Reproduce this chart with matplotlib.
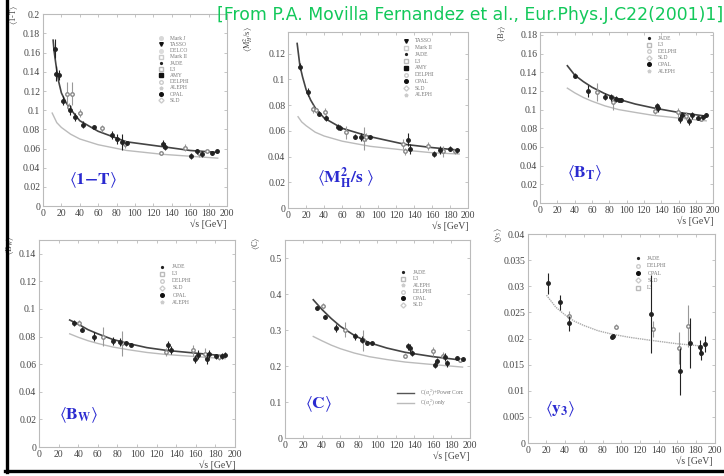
import numpy as np
import matplotlib
matplotlib.use('Agg')
import matplotlib.pyplot as plt
from matplotlib.lines import Line2D
from matplotlib.ticker import FuncFormatter

plt.rcParams['font.family'] = ['Liberation Serif', 'DejaVu Serif']
plt.rcParams['mathtext.fontset'] = 'stix'

# ---- <1-T> ----
t_x = [12.7, 14.5, 17.5, 22.0, 29.8, 34.5, 43.0, 55.0, 74.5, 80.0, 85.5, 91.2, 130.0, 133.0, 161.0, 167.0, 172.7, 183.6, 189.0]
t_y = [0.164, 0.138, 0.137, 0.110, 0.100, 0.093, 0.085, 0.082, 0.074, 0.070, 0.067, 0.066, 0.065, 0.062, 0.052, 0.057, 0.054, 0.055, 0.057]
t_e = [0.010, 0.008, 0.005, 0.005, 0.005, 0.004, 0.004, 0.002, 0.004, 0.005, 0.008, 0.001, 0.004, 0.004, 0.003, 0.003, 0.003, 0.002, 0.002]
t_x2 = [26.5, 31.0, 28.0, 40.0, 64.7, 89.0, 128.0, 154.5, 170.0, 178.0]
t_y2 = [0.117, 0.117, 0.103, 0.097, 0.081, 0.065, 0.055, 0.061, 0.055, 0.057]
t_e2 = [0.012, 0.012, 0.005, 0.004, 0.004, 0.004, 0.002, 0.004, 0.004, 0.002]
t_fit_x = [11, 12, 14, 17, 20, 25, 30, 40, 60, 91, 130, 160, 190]
t_fit_y = [0.173, 0.162, 0.148, 0.130, 0.118, 0.108, 0.101, 0.089, 0.078, 0.067, 0.062, 0.058, 0.056]
t_nlo_x = [10, 15, 20, 30, 40, 60, 91, 130, 160, 190]
t_nlo_y = [0.097, 0.087, 0.082, 0.075, 0.070, 0.064, 0.058, 0.054, 0.052, 0.050]

# ---- <M_H^2/s> ----
m_x = [13.0, 21.5, 34.0, 42.6, 55.5, 57.4, 74.0, 81.5, 91.5, 133.0, 135.0, 161.8, 168.5, 180.0, 187.8]
m_y = [0.110, 0.090, 0.0735, 0.070, 0.063, 0.0625, 0.0555, 0.055, 0.055, 0.053, 0.046, 0.042, 0.045, 0.046, 0.045]
m_e = [0.003, 0.003, 0.002, 0.002, 0.002, 0.002, 0.002, 0.003, 0.001, 0.005, 0.004, 0.002, 0.003, 0.002, 0.002]
m_x2 = [27.8, 30.7, 40.7, 64.0, 84.0, 87.0, 127.8, 129.6, 155.5, 172.0, 185.0]
m_y2 = [0.077, 0.076, 0.075, 0.059, 0.054, 0.055, 0.050, 0.044, 0.048, 0.044, 0.044]
m_e2 = [0.003, 0.002, 0.003, 0.005, 0.009, 0.003, 0.004, 0.003, 0.003, 0.004, 0.002]
m_fit_x = [10, 13, 16, 20, 25, 30, 40, 60, 91, 130, 160, 190]
m_fit_y = [0.128, 0.111, 0.102, 0.092, 0.084, 0.078, 0.070, 0.062, 0.0555, 0.0495, 0.047, 0.045]
m_nlo_x = [11, 15, 20, 30, 40, 60, 91, 130, 160, 190]
m_nlo_y = [0.071, 0.067, 0.064, 0.059, 0.056, 0.052, 0.048, 0.045, 0.043, 0.042]

# ---- <B_T> ----
bt_x = [40.4, 55.8, 75.0, 82.0, 87.7, 91.5, 94.0, 134.6, 136.5, 161.5, 164.0, 172.0, 175.0, 182.7, 188.5, 192.0]
bt_y = [0.1365, 0.120, 0.114, 0.113, 0.1115, 0.1105, 0.110, 0.1035, 0.102, 0.090, 0.094, 0.088, 0.094, 0.091, 0.092, 0.094]
bt_e = [0.003, 0.006, 0.004, 0.004, 0.003, 0.001, 0.002, 0.004, 0.004, 0.004, 0.003, 0.004, 0.004, 0.002, 0.002, 0.002]
bt_x2 = [65.4, 84.6, 132.7, 159.6, 169.0, 185.4]
bt_y2 = [0.119, 0.108, 0.099, 0.097, 0.093, 0.090]
bt_e2 = [0.010, 0.008, 0.004, 0.005, 0.004, 0.002]
bt_fit_x = [31.5, 40, 50, 60, 75, 91, 110, 130, 160, 192]
bt_fit_y = [0.147, 0.137, 0.130, 0.124, 0.117, 0.111, 0.106, 0.102, 0.097, 0.093]
bt_nlo_y = [0.123, 0.118, 0.113, 0.109, 0.104, 0.100, 0.097, 0.094, 0.091, 0.088]

# ---- <B_W> ----
bw_x = [35.4, 44.0, 56.2, 75.6, 82.5, 88.6, 93.4, 131.9, 134.2, 159.1, 162.5, 171.0, 173.8, 180.6, 186.4, 189.8]
bw_y = [0.0898, 0.085, 0.080, 0.077, 0.076, 0.075, 0.074, 0.0736, 0.0705, 0.064, 0.067, 0.064, 0.0676, 0.0657, 0.066, 0.067]
bw_e = [0.002, 0.002, 0.003, 0.003, 0.003, 0.002, 0.001, 0.003, 0.003, 0.003, 0.003, 0.004, 0.003, 0.002, 0.002, 0.002]
bw_x2 = [40.9, 65.4, 85.0, 129.5, 157.4, 169.3, 183.3]
bw_y2 = [0.0898, 0.080, 0.075, 0.0688, 0.070, 0.0676, 0.065]
bw_e2 = [0.002, 0.007, 0.009, 0.003, 0.004, 0.004, 0.002]
bw_fit_x = [31.3, 40, 50, 60, 75, 91, 110, 130, 160, 190]
bw_fit_y = [0.092, 0.089, 0.085, 0.082, 0.078, 0.075, 0.072, 0.070, 0.068, 0.066]
bw_nlo_y = [0.082, 0.0795, 0.077, 0.075, 0.0725, 0.0705, 0.0685, 0.067, 0.0655, 0.064]

# ---- <C> ----
c_x = [35.0, 43.2, 55.1, 75.7, 82.9, 89.0, 93.7, 132.6, 135.0, 137.0, 162.0, 164.0, 173.0, 174.8, 186.3, 192.8]
c_y = [0.361, 0.336, 0.3056, 0.282, 0.273, 0.264, 0.264, 0.255, 0.250, 0.236, 0.204, 0.213, 0.225, 0.208, 0.222, 0.219]
c_e = [0.006, 0.006, 0.010, 0.010, 0.010, 0.005, 0.003, 0.010, 0.010, 0.008, 0.010, 0.008, 0.010, 0.010, 0.005, 0.005]
c_x2 = [40.7, 64.9, 84.7, 129.7, 159.6, 170.5, 189.2]
c_y2 = [0.366, 0.301, 0.271, 0.229, 0.241, 0.229, 0.218]
c_e2 = [0.008, 0.020, 0.030, 0.008, 0.012, 0.010, 0.005]
c_fit_x = [30.6, 40, 50, 60, 75, 91, 110, 130, 160, 192]
c_fit_y = [0.384, 0.357, 0.332, 0.310, 0.285, 0.265, 0.250, 0.238, 0.226, 0.216]
c_nlo_y = [0.282, 0.270, 0.258, 0.248, 0.236, 0.226, 0.218, 0.211, 0.204, 0.197]

# ---- <y3> ----
y3_x = [21.5, 34.5, 43.8, 90.0, 91.6, 132.0, 162.7, 173.7, 184.0, 185.0, 189.7]
y3_y = [0.0306, 0.0269, 0.0229, 0.0203, 0.0205, 0.0247, 0.0137, 0.0192, 0.0183, 0.0173, 0.0190]
y3_e = [0.0020, 0.0015, 0.0015, 0.0004, 0.0004, 0.0075, 0.0045, 0.0048, 0.0015, 0.0015, 0.0015]
y3_x2 = [43.8, 94.4, 134.4, 161.7, 171.9]
y3_y2 = [0.0243, 0.0223, 0.0218, 0.0182, 0.0224]
y3_e2 = [0.0010, 0.0005, 0.0015, 0.0030, 0.0040]
y3_fit_x = [20, 30, 40, 50, 60, 75, 91, 110, 130, 160, 190]
y3_fit_y = [0.0283, 0.0260, 0.0245, 0.0233, 0.0225, 0.0215, 0.0208, 0.0202, 0.0197, 0.0190, 0.0185]

keys_t = ['Mark J', 'TASSO', 'DELCO', 'Mark II', 'JADE', 'L3', 'AMY', 'DELPHI', 'ALEPH', 'OPAL', 'SLD']
keys_m = ['TASSO', 'Mark II', 'JADE', 'L3', 'AMY', 'DELPHI', 'OPAL', 'SLD', 'ALEPH']
keys_b = ['JADE', 'L3', 'DELPHI', 'SLD', 'OPAL', 'ALEPH']
keys_c = ['JADE', 'L3', 'ALEPH', 'DELPHI', 'OPAL', 'SLD']
keys_y = ['JADE', 'DELPHI', 'OPAL', 'SLD', 'L3']

marker_of = {
    'Mark J': ('o', '#d8d8d8', True), 'TASSO': ('v', '#111111', True),
    'DELCO': ('o', '#dddddd', True), 'Mark II': ('s', '#cccccc', False),
    'JADE': ('.', '#222222', True), 'L3': ('s', '#bbbbbb', False),
    'AMY': ('s', '#111111', True), 'DELPHI': ('o', '#cccccc', False),
    'ALEPH': ('*', '#cccccc', True), 'OPAL': ('o', '#111111', True),
    'SLD': ('D', '#cccccc', False),
}

fmt = FuncFormatter(lambda v, p: '%g' % round(v, 4))


def setup(ax, ymax, ystep, ylab, lab_xy):
    ax.set_xlim(0, 200)
    ax.set_ylim(0, ymax)
    ax.set_xticks(np.arange(0, 201, 20))
    ax.set_yticks(np.arange(0, ymax + 1e-9, ystep))
    ax.xaxis.set_major_formatter(fmt)
    ax.yaxis.set_major_formatter(fmt)
    ax.tick_params(direction='in', length=2, width=0.6, color='#bbbbbb',
                   labelsize=7, labelcolor='#444444', pad=2, top=True, right=True)
    for s in ax.spines.values():
        s.set_linestyle((0, (1, 1)))
        s.set_color('#bbbbbb')
        s.set_linewidth(0.8)
    ax.set_xlabel('√s [GeV]', loc='right', fontsize=7, color='#444444', labelpad=1)
    ax.text(lab_xy[0], lab_xy[1], ylab, transform=ax.transAxes, rotation=90,
            ha='center', va='top', fontsize=6, color='#444444')


def points(ax, x, y, e, x2, y2, e2):
    ax.errorbar(x2, y2, yerr=e2, fmt='o', ms=2.5, color='#999999', mfc='white',
                mec='#888888', elinewidth=0.8, capsize=0, zorder=3)
    ax.errorbar(x, y, yerr=e, fmt='o', ms=2.5, color='#222222', elinewidth=0.8,
                capsize=0, zorder=4)


def key(ax, names, xm, ytop, ybot):
    ys = np.linspace(ytop, ybot, len(names))
    for name, yy in zip(names, ys):
        mk, col, filled = marker_of[name]
        ax.plot([xm], [yy], marker=mk, ms=2.6, color=col,
                mfc=col if filled else 'white', mec=col, transform=ax.transAxes,
                clip_on=False, ls='none')
        ax.text(xm + 0.05, yy, name, transform=ax.transAxes, fontsize=4,
                color='#777777', va='center', ha='left')


def blue(ax, xy, s):
    ax.text(xy[0], xy[1], s, transform=ax.transAxes, fontsize=12.5,
            color='#2a2ad0', ha='center', va='center')


fig = plt.figure(figsize=(7.24, 4.76), dpi=100)

# panel 1
ax1 = fig.add_axes([0.0594, 0.567, 0.254, 0.403])
setup(ax1, 0.2, 0.02, r'$\langle$1-T$\rangle$', (-0.158, 1.05))
ax1.plot(t_nlo_x, t_nlo_y, color='#bbbbbb', lw=1.0, zorder=2)
ax1.plot(t_fit_x, t_fit_y, color='#444444', lw=1.2, zorder=2)
points(ax1, t_x, t_y, t_e, t_x2, t_y2, t_e2)
key(ax1, keys_t, 0.64, 0.875, 0.552)
blue(ax1, (0.27, 0.135), r'$\langle\mathbf{1{-}T}\rangle$')

# panel 2
ax2 = fig.add_axes([0.398, 0.563, 0.2486, 0.370])
setup(ax2, 0.137, 0.02, r'$\langle$M$_H^2$/s$\rangle$', (-0.22, 1.03))
ax2.plot(m_nlo_x, m_nlo_y, color='#bbbbbb', lw=1.0, zorder=2)
ax2.plot(m_fit_x, m_fit_y, color='#444444', lw=1.2, zorder=2)
points(ax2, m_x, m_y, m_e, m_x2, m_y2, m_e2)
key(ax2, keys_m, 0.655, 0.949, 0.642)
blue(ax2, (0.32, 0.17), r'$\langle\mathbf{M_H^2/s}\ \rangle$')

# panel 3
ax3 = fig.add_axes([0.746, 0.5735, 0.239, 0.359])
setup(ax3, 0.183, 0.02, r'$\langle$B$_T\rangle$', (-0.22, 1.045))
ax3.plot(bt_fit_x, bt_nlo_y, color='#bbbbbb', lw=1.0, zorder=2)
ax3.plot(bt_fit_x, bt_fit_y, color='#444444', lw=1.2, zorder=2)
points(ax3, bt_x, bt_y, bt_e, bt_x2, bt_y2, bt_e2)
key(ax3, keys_b, 0.63, 0.965, 0.772)
blue(ax3, (0.255, 0.175), r'$\langle\mathbf{B_T}\rangle$')

# panel 4
ax4 = fig.add_axes([0.0539, 0.0609, 0.2707, 0.435])
setup(ax4, 0.15, 0.02, r'$\langle$B$_W\rangle$', (-0.148, 1.02))
ax4.plot(bw_fit_x, bw_nlo_y, color='#bbbbbb', lw=1.0, zorder=2)
ax4.plot(bw_fit_x, bw_fit_y, color='#444444', lw=1.2, zorder=2)
points(ax4, bw_x, bw_y, bw_e, bw_x2, bw_y2, bw_e2)
key(ax4, keys_b, 0.63, 0.87, 0.70)
blue(ax4, (0.2, 0.155), r'$\langle\mathbf{B_W}\rangle$')

# panel 5
ax5 = fig.add_axes([0.3936, 0.0798, 0.2555, 0.416])
setup(ax5, 0.55, 0.1, r'$\langle$C$\rangle$', (-0.157, 1.02))
ax5.plot(c_fit_x, c_nlo_y, color='#bbbbbb', lw=1.0, zorder=2)
ax5.plot(c_fit_x, c_fit_y, color='#444444', lw=1.2, zorder=2)
points(ax5, c_x, c_y, c_e, c_x2, c_y2, c_e2)
key(ax5, keys_c, 0.64, 0.838, 0.672)
ax5.plot([0.605, 0.70], [0.227, 0.227], color='#555555', lw=1.0, transform=ax5.transAxes)
ax5.plot([0.605, 0.70], [0.177, 0.177], color='#bbbbbb', lw=1.0, transform=ax5.transAxes)
ax5.text(0.73, 0.227, r'O($\alpha_s^2$)+Power Corr.', transform=ax5.transAxes,
         fontsize=4, color='#777777', va='center')
ax5.text(0.73, 0.177, r'O($\alpha_s^2$) only', transform=ax5.transAxes,
         fontsize=4, color='#777777', va='center')
blue(ax5, (0.18, 0.17), r'$\langle\mathbf{C}\rangle$')

# panel 6
ax6 = fig.add_axes([0.729, 0.0693, 0.258, 0.439])
setup(ax6, 0.04, 0.005, r'$\langle$y$_3\rangle$', (-0.16, 1.03))
ax6.xaxis.label.set_x(0.99)
ax6.plot(y3_fit_x, y3_fit_y, color='#aaaaaa', lw=1.0, ls=(0, (1, 0.6)), zorder=2)
points(ax6, y3_x, y3_y, y3_e, y3_x2, y3_y2, y3_e2)
key(ax6, keys_y, 0.59, 0.885, 0.742)
blue(ax6, (0.175, 0.16), r'$\langle\mathbf{y_3}\rangle$')

fig.text(0.9985, 0.968, '[From P.A. Movilla Fernandez et al., Eur.Phys.J.C22(2001)1]',
         fontsize=12.4, color='#12c85a', ha='right', va='center', family='DejaVu Sans')

# black frame lines at left and bottom
fig.add_artist(Line2D([0.009, 0.009], [0.008, 1.0], color='black', lw=2.4))
fig.add_artist(Line2D([0.007, 1.0], [0.0105, 0.0105], color='black', lw=2.4))

fig.savefig('out.png', dpi=100)
